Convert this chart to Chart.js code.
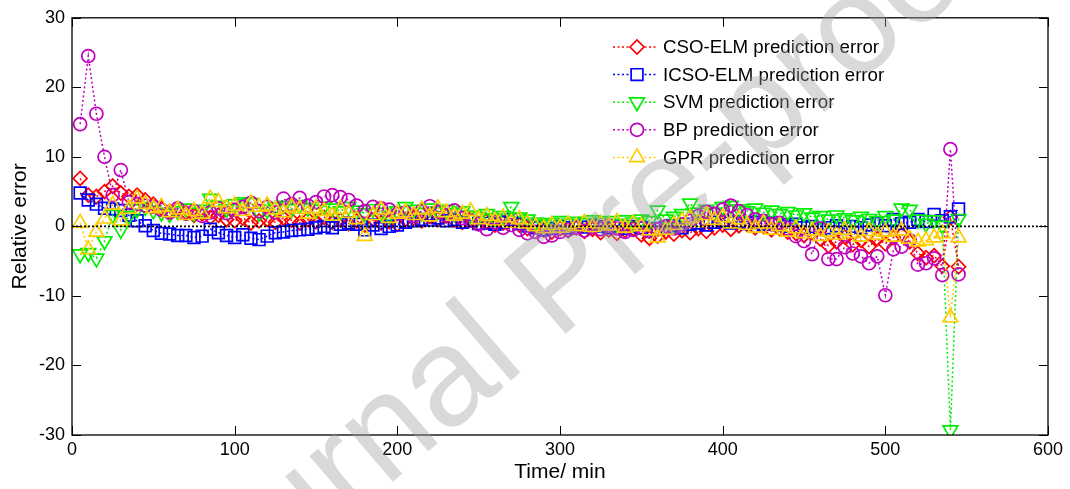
<!DOCTYPE html>
<html>
<head>
<meta charset="utf-8">
<script src="https://cdn.jsdelivr.net/npm/chart.js@4.4.1/dist/chart.umd.min.js"></script>
<style>
  html, body { margin: 0; padding: 0; background: #fff; }
  #wrap { width: 1070px; height: 489px; }
</style>
</head>
<body>
<div id="wrap"><canvas id="chart" width="1070" height="489"></canvas></div>
<script>
// time stamps (min)
const times = [5,10,15,20,25,30,35,40,45,50,55,60,65,70,75,80,85,90,95,100,
  105,110,115,120,125,130,135,140,145,150,155,160,165,170,175,180,185,190,195,200,
  205,210,215,220,225,230,235,240,245,250,255,260,265,270,275,280,285,290,295,300,
  305,310,315,320,325,330,335,340,345,350,355,360,365,370,375,380,385,390,395,400,
  405,410,415,420,425,430,435,440,445,450,455,460,465,470,475,480,485,490,495,500,
  505,510,515,520,525,530,535,540,545];

const csoElm = [6.9,4.5,4.3,5.0,5.8,4.8,4.3,4.5,3.8,3.2,2.6,2.2,2.5,2.0,1.6,1.8,1.3,1.6,1.0,0.8,
  1.2,0.5,0.8,1.0,0.6,1.2,0.9,0.5,1.0,0.7,1.3,0.6,0.9,0.4,0.8,0.2,0.9,0.5,0.7,0.3,
  1.0,1.2,0.8,1.4,1.0,1.5,0.9,0.6,1.1,0.4,0.7,0.2,0.5,0.9,0.2,-0.3,0.1,-0.5,-0.8,-0.3,
  -0.6,-0.2,-0.7,-0.4,-0.9,-0.5,-1.0,-0.6,-0.3,-1.2,-1.7,-1.4,-0.8,-1.1,-0.6,-0.9,-0.3,-0.7,-0.2,0.2,
  -0.4,0.1,0.3,-0.2,0.0,-0.5,-0.3,-0.8,-1.0,-1.3,-0.9,-1.8,-2.8,-2.2,-1.5,-2.6,-2.0,-2.9,-1.8,-2.5,
  -1.6,-1.2,-2.2,-3.9,-4.5,-4.2,-5.7,1.3,-5.8];

const icsoElm = [4.8,3.8,3.2,2.6,2.5,2.3,1.6,0.8,0.1,-0.6,-1.0,-1.1,-1.3,-1.3,-1.6,-1.4,-0.4,-0.9,-1.3,-1.6,
  -1.2,-1.7,-1.9,-1.4,-0.9,-0.8,-0.6,-0.5,-0.4,-0.2,0.0,-0.2,0.3,0.5,0.3,-0.5,0.2,-0.3,0.0,0.2,
  0.6,0.8,1.0,0.9,1.2,0.8,1.0,0.6,0.8,0.4,0.5,0.3,0.6,1.0,0.4,0.1,-0.2,-0.5,-0.3,0.0,
  -0.2,0.1,-0.1,0.2,0.0,-0.2,0.1,-0.3,0.0,-0.2,-0.5,-0.3,-0.1,0.1,-0.2,0.3,0.5,0.2,0.6,0.8,
  0.5,0.7,0.4,0.6,0.3,0.5,0.2,0.0,0.3,-0.2,0.0,-0.4,-0.2,0.1,-0.3,0.0,-0.2,0.2,0.4,0.1,
  1.0,0.4,0.6,1.0,0.7,1.7,0.8,1.4,2.5];

const svm = [-4.0,-3.8,-4.6,-2.1,1.7,-0.5,1.5,2.5,2.8,2.3,2.0,1.8,2.2,2.6,2.0,2.4,4.0,3.0,2.5,3.2,
  3.5,3.4,2.0,2.4,2.8,3.0,2.5,3.1,2.7,2.4,2.9,2.6,2.2,2.8,2.3,1.9,2.5,2.0,1.6,2.2,
  2.8,2.4,2.0,2.6,2.2,2.4,1.9,2.2,1.6,1.4,1.8,1.2,1.5,2.8,1.3,1.0,0.6,0.3,0.5,0.8,
  0.4,0.7,0.5,0.9,0.6,0.8,0.4,0.9,0.6,1.0,0.8,2.3,1.0,1.4,1.8,3.3,2.0,2.4,2.0,2.8,
  3.0,2.5,2.2,2.6,2.0,2.3,1.8,2.1,1.6,1.9,1.3,1.5,1.0,1.6,1.2,0.9,1.4,1.1,0.8,1.5,
  1.0,2.6,2.4,1.0,0.4,0.9,0.1,-29.3,1.1];

const bp = [14.7,24.5,16.2,10.0,4.5,8.1,3.5,3.2,3.0,2.8,2.4,2.0,2.6,1.8,2.2,1.5,2.0,2.6,1.9,2.4,
  2.8,3.4,2.2,2.8,2.0,4.0,3.2,4.1,3.0,3.5,4.3,4.5,4.2,3.8,3.0,2.2,2.8,2.6,2.4,1.8,
  2.0,1.5,2.2,2.9,2.1,1.6,2.3,1.2,0.8,0.3,-0.4,0.6,-0.2,0.2,-0.5,-1.0,-0.8,-1.5,-1.3,-0.8,
  -0.5,-0.2,-0.6,-0.1,-0.4,0.1,-0.3,-0.8,-0.5,-0.2,-0.7,-0.4,0.0,-0.3,0.3,0.8,1.5,2.1,1.8,2.4,
  3.0,2.2,1.6,1.0,0.8,0.3,0.5,-0.3,-1.4,-2.1,-4.0,-0.3,-4.7,-4.7,-3.0,-3.9,-4.3,-5.3,-4.3,-9.9,
  -3.3,-2.9,-2.0,-5.5,-5.3,-4.6,-7.0,11.1,-6.9];

const gpr = [0.5,-3.3,-0.8,1.1,3.1,0.8,2.5,4.0,3.2,2.6,2.8,2.0,2.4,1.6,2.2,1.8,4.0,3.5,2.6,3.0,
  2.2,3.3,2.8,3.0,2.4,2.0,2.8,2.5,1.8,2.6,2.2,1.5,2.5,1.9,1.0,-1.4,1.6,2.4,1.2,1.8,
  2.0,1.6,2.4,1.4,2.6,2.0,1.5,1.8,2.2,1.0,1.5,0.8,1.3,0.5,1.0,0.4,0.0,-0.3,0.2,-0.2,
  0.3,0.0,0.5,-0.1,0.4,0.1,0.6,-0.2,0.4,0.0,-0.6,-1.6,-0.5,0.2,0.8,1.2,0.6,1.6,0.9,1.3,
  0.4,1.0,0.2,-0.2,0.4,-0.5,0.0,-0.8,-0.3,-1.0,-0.6,-1.4,-0.8,-1.2,-0.5,-1.0,-1.5,-0.7,-1.2,-0.8,
  -1.5,-0.6,-1.8,-2.2,-2.0,-1.6,-1.0,-13.1,-1.6];

const xTicks = [0, 100, 200, 300, 400, 500, 600];
const yTicks = [-30, -20, -10, 0, 10, 20, 30];
const zeroLine = [0, 0];
const zeroX = [0, 600];

const FONT = '"Liberation Sans", Arial, sans-serif';

function pts(arr) { return arr.map((v, i) => ({ x: times[i], y: v })); }

function series(label, data, color, style, radius, rotation, order) {
  return {
    label: label,
    data: pts(data),
    borderColor: color,
    backgroundColor: 'rgba(0,0,0,0)',
    borderWidth: 1.5,
    borderDash: [2, 2.5],
    pointStyle: style,
    pointRadius: radius,
    pointRotation: rotation,
    pointBorderWidth: 1.7,
    pointBorderColor: color,
    pointBackgroundColor: 'rgba(0,0,0,0)',
    tension: 0,
    order: order,
  };
}

const datasets = [
  series('CSO-ELM prediction error', csoElm, '#ff0000', 'rectRot', 7, 0, 6),
  series('ICSO-ELM prediction error', icsoElm, '#0000ff', 'rect', 8.3, 0, 5),
  series('SVM prediction error', svm, '#00ee00', 'triangle', 8.5, 180, 4),
  series('BP prediction error', bp, '#bf00bf', 'circle', 6.5, 0, 3),
  series('GPR prediction error', gpr, '#ffcc00', 'triangle', 8.5, 0, 2),
  {
    label: 'zero',
    data: zeroX.map((x, i) => ({ x: x, y: zeroLine[i] })),
    borderColor: '#000',
    borderWidth: 1.7,
    borderDash: [2, 2],
    pointRadius: 0,
    order: 1,
  },
];

// box, inward ticks (matlab style), legend and watermark
const frame = {
  id: 'frame',
  afterDraw(chart) {
    const { ctx, chartArea: a, scales } = chart;
    ctx.save();
    ctx.strokeStyle = '#000';
    ctx.lineWidth = 1.3;
    ctx.strokeRect(a.left, a.top, a.right - a.left, a.bottom - a.top);
    ctx.lineWidth = 1;
    ctx.beginPath();
    xTicks.forEach(v => {
      const px = Math.round(scales.x.getPixelForValue(v)) + 0.5;
      ctx.moveTo(px, a.bottom); ctx.lineTo(px, a.bottom - 9);
      ctx.moveTo(px, a.top); ctx.lineTo(px, a.top + 9);
    });
    yTicks.forEach(v => {
      const py = Math.round(scales.y.getPixelForValue(v)) + 0.5;
      ctx.moveTo(a.left, py); ctx.lineTo(a.left + 9, py);
      ctx.moveTo(a.right, py); ctx.lineTo(a.right - 9, py);
    });
    ctx.stroke();

    // legend
    const lx = 613, ly = 47, step = 27.6;
    ctx.font = '18.7px ' + FONT;
    ctx.textBaseline = 'middle';
    chart.data.datasets.slice(0, 5).forEach((ds, i) => {
      const y = ly + i * step;
      ctx.strokeStyle = ds.borderColor;
      ctx.lineWidth = 1.5;
      ctx.setLineDash([2, 2.5]);
      ctx.beginPath();
      ctx.moveTo(lx, y); ctx.lineTo(lx + 45, y);
      ctx.stroke();
      ctx.setLineDash([]);
      ctx.lineWidth = 1.7;
      ctx.fillStyle = '#fff';
      Chart.helpers.drawPoint(ctx, {
        pointStyle: ds.pointStyle,
        rotation: ds.pointRotation,
        radius: ds.pointRadius,
        borderWidth: 1.7,
      }, lx + 24, y);
      ctx.fillStyle = '#000';
      ctx.fillText(ds.label, lx + 50, y + 1);
    });

    // watermark
    ctx.translate(566, 286);
    ctx.rotate(-40.6 * Math.PI / 180);
    ctx.font = '140px ' + FONT;
    ctx.fillStyle = 'rgba(160,160,160,0.4)';
    ctx.textAlign = 'center';
    ctx.textBaseline = 'alphabetic';
    ctx.fillText('Journal Pre-proof', 0, 36);
    ctx.restore();
  }
};

new Chart(document.getElementById('chart'), {
  type: 'line',
  data: { datasets: datasets },
  options: {
    responsive: false,
    animation: false,
    layout: { padding: { top: 15, right: 22, left: 0, bottom: 0 } },
    plugins: {
      legend: { display: false },
      tooltip: { enabled: false },
    },
    scales: {
      x: {
        type: 'linear',
        min: 0, max: 600,
        afterFit: s => { s.height = 54; },
        afterBuildTicks: s => { s.ticks = xTicks.map(v => ({ value: v })); },
        grid: { display: false, drawTicks: false },
        border: { display: false },
        ticks: { color: '#000', font: { family: FONT, size: 18 }, padding: 4, maxRotation: 0 },
        title: { display: true, text: 'Time/ min', color: '#000', font: { family: FONT, size: 21 }, padding: { top: 0 } },
      },
      y: {
        min: -30, max: 30,
        afterFit: s => { s.width = 72; },
        afterBuildTicks: s => { s.ticks = yTicks.map(v => ({ value: v })); },
        grid: { display: false, drawTicks: false },
        border: { display: false },
        ticks: { color: '#000', font: { family: FONT, size: 18 }, padding: 7 },
        title: { display: true, text: 'Relative error', color: '#000', font: { family: FONT, size: 21 }, padding: { top: 8, bottom: 0 } },
      },
    },
  },
  plugins: [frame],
});
</script>
</body>
</html>
